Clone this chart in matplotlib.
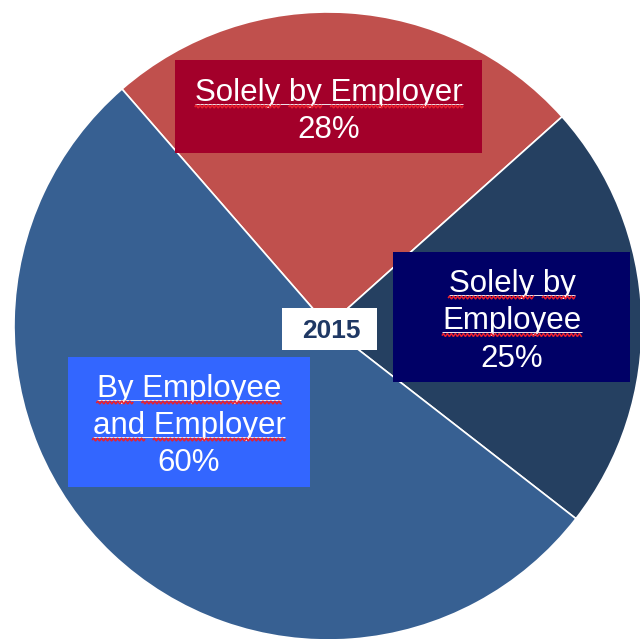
import matplotlib
matplotlib.use("Agg")
import matplotlib.pyplot as plt
from matplotlib.patches import Rectangle
from matplotlib.font_manager import FontProperties
import numpy as np

# Who pays the contributions, 2015
year = "2015"
categories = ["Solely by Employer", "Solely by Employee", "By Employee and Employer"]
shares = [28, 25, 60]
label_lines = [["Solely by Employer"], ["Solely by", "Employee"], ["By Employee", "and Employer"]]
slice_colors = ["#C0504D", "#254061", "#376092"]
box_colors = ["#A3002A", "#000066", "#3366FF"]

W, H = 640, 639
FONT = "Liberation Sans"

fig = plt.figure(figsize=(W / 100, H / 100), dpi=100)
ax = fig.add_axes([0, 0, 1, 1])


def py(y):
    """Convert a top-down pixel row into the axes' bottom-up y coordinate."""
    return H - y


ax.pie(shares, colors=slice_colors, startangle=131, counterclock=False,
       center=(328, py(326)), radius=314,
       wedgeprops=dict(edgecolor="white", linewidth=1.2))
ax.set_xlim(0, W)
ax.set_ylim(0, H)
ax.set_aspect("equal")
ax.axis("off")

# label boxes: (left, top, right, bottom), text centre x, first baseline, line step
box_layout = [
    ((175, 60, 482, 153), 329, 101, 37),
    ((393, 252, 630, 382), 512, 292, 37.5),
    ((68, 357, 310, 487), 189, 397, 37),
]

word_lines = []  # (text artist, baseline) for lines that get the wavy underline
for lines, value, fc, (box, cx, b0, step) in zip(label_lines, shares, box_colors, box_layout):
    l, t, r, b = box
    ax.add_patch(Rectangle((l, py(b)), r - l, b - t, facecolor=fc, edgecolor="none", zorder=3))
    for i, s in enumerate(lines + [f"{value}%"]):
        base = b0 + i * step
        txt = ax.text(cx, py(base), s, ha="center", va="baseline", fontsize=22.5,
                      color="white", family=FONT, zorder=4)
        if i < len(lines):
            word_lines.append((txt, base))

# year tag over the centre of the pie
ax.add_patch(Rectangle((282, py(350)), 95, 42, facecolor="white", edgecolor="none", zorder=3))
ax.text(331, py(338), year, ha="center", va="baseline", fontsize=19, fontweight="bold",
        color="#1F3864", family=FONT, zorder=4)

# underline + red wavy marks under each worded line
fig.canvas.draw()
renderer = fig.canvas.get_renderer()
fp = FontProperties(family=FONT, size=22.5)


def width(s):
    return renderer.get_text_width_height_descent(s, fp, ismath=False)[0]


for txt, base in word_lines:
    s = txt.get_text()
    ext = txt.get_window_extent(renderer)
    left = ext.x0
    total = width(s)
    ax.plot([left, left + total], [py(base + 2.5)] * 2, color="#F0E8F0", lw=0.7, zorder=5,
            solid_capstyle="butt")
    pos = 0
    for word in s.split(" "):
        start = s.index(word, pos)
        end = start + len(word)
        pos = end
        x1 = left + width(s[:end])
        x0 = x1 - width(word)
        xs = np.arange(x0, x1, 0.5)
        ys = py(base + 5.5) + 1.3 * np.sin(2 * np.pi * (xs - x0) / 4.0)
        ax.plot(xs, ys, color="#E8202E", lw=1.1, zorder=5)

fig.savefig("out.png", dpi=100, facecolor="white")
